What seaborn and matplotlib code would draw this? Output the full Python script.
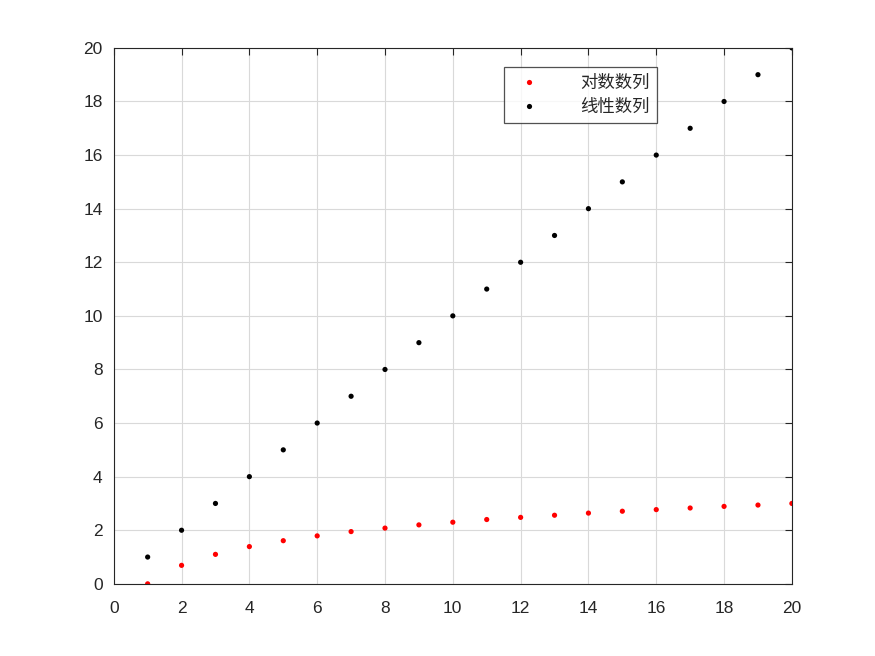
import pandas as pd
import seaborn as sns
import matplotlib.pyplot as plt

# data
x_vals = [1, 2, 3, 4, 5, 6, 7, 8, 9, 10, 11, 12, 13, 14, 15, 16, 17, 18, 19, 20]
log_vals = [0.0, 0.69, 1.10, 1.39, 1.61, 1.79, 1.95, 2.08, 2.20, 2.30,
            2.40, 2.48, 2.56, 2.64, 2.71, 2.77, 2.83, 2.89, 2.94, 3.00]
lin_vals = [1, 2, 3, 4, 5, 6, 7, 8, 9, 10, 11, 12, 13, 14, 15, 16, 17, 18, 19, 20]
series_names = ['对数数列', '线性数列']

df = pd.concat([
    pd.DataFrame({'x': x_vals, 'y': log_vals, 'series': series_names[0]}),
    pd.DataFrame({'x': x_vals, 'y': lin_vals, 'series': series_names[1]}),
])

sns.set_style('white')
plt.rcParams['font.family'] = ['Noto Sans CJK SC', 'DejaVu Sans']

fig = plt.figure(figsize=(8.75, 6.56), dpi=100)
ax = fig.add_axes([0.130, 0.110, 0.775, 0.817])

sns.scatterplot(data=df, x='x', y='y', hue='series',
                palette={series_names[0]: '#ff0000', series_names[1]: '#000000'},
                s=14, linewidth=0, ax=ax, legend=True)

ax.set_xlim(0, 20)
ax.set_ylim(0, 20)
ax.set_xticks(range(0, 21, 2))
ax.set_yticks(range(0, 21, 2))
ax.set_xlabel('')
ax.set_ylabel('')
ax.grid(True, color='#d9d9d9', linewidth=0.8)
ax.set_axisbelow(True)
for sp in ax.spines.values():
    sp.set_color('#262626')
    sp.set_linewidth(0.8)
ax.tick_params(direction='in', top=True, right=True, length=5,
               color='#262626', labelcolor='#262626', labelsize=12.5)
ax.tick_params(axis='x', pad=12)
ax.tick_params(axis='y', pad=8)
for lab in ax.get_xticklabels() + ax.get_yticklabels():
    lab.set_family(['Liberation Sans', 'DejaVu Sans'])

leg = ax.legend(loc='upper left', bbox_to_anchor=(0.563, 0.981),
                frameon=True, fancybox=False, fontsize=12.5,
                markerscale=1.0, handletextpad=2.0, borderpad=0.4,
                labelspacing=0.35, handlelength=2.0)
leg.get_frame().set_edgecolor('#262626')
leg.get_frame().set_linewidth(0.9)

plt.savefig('out.png', dpi=100)
